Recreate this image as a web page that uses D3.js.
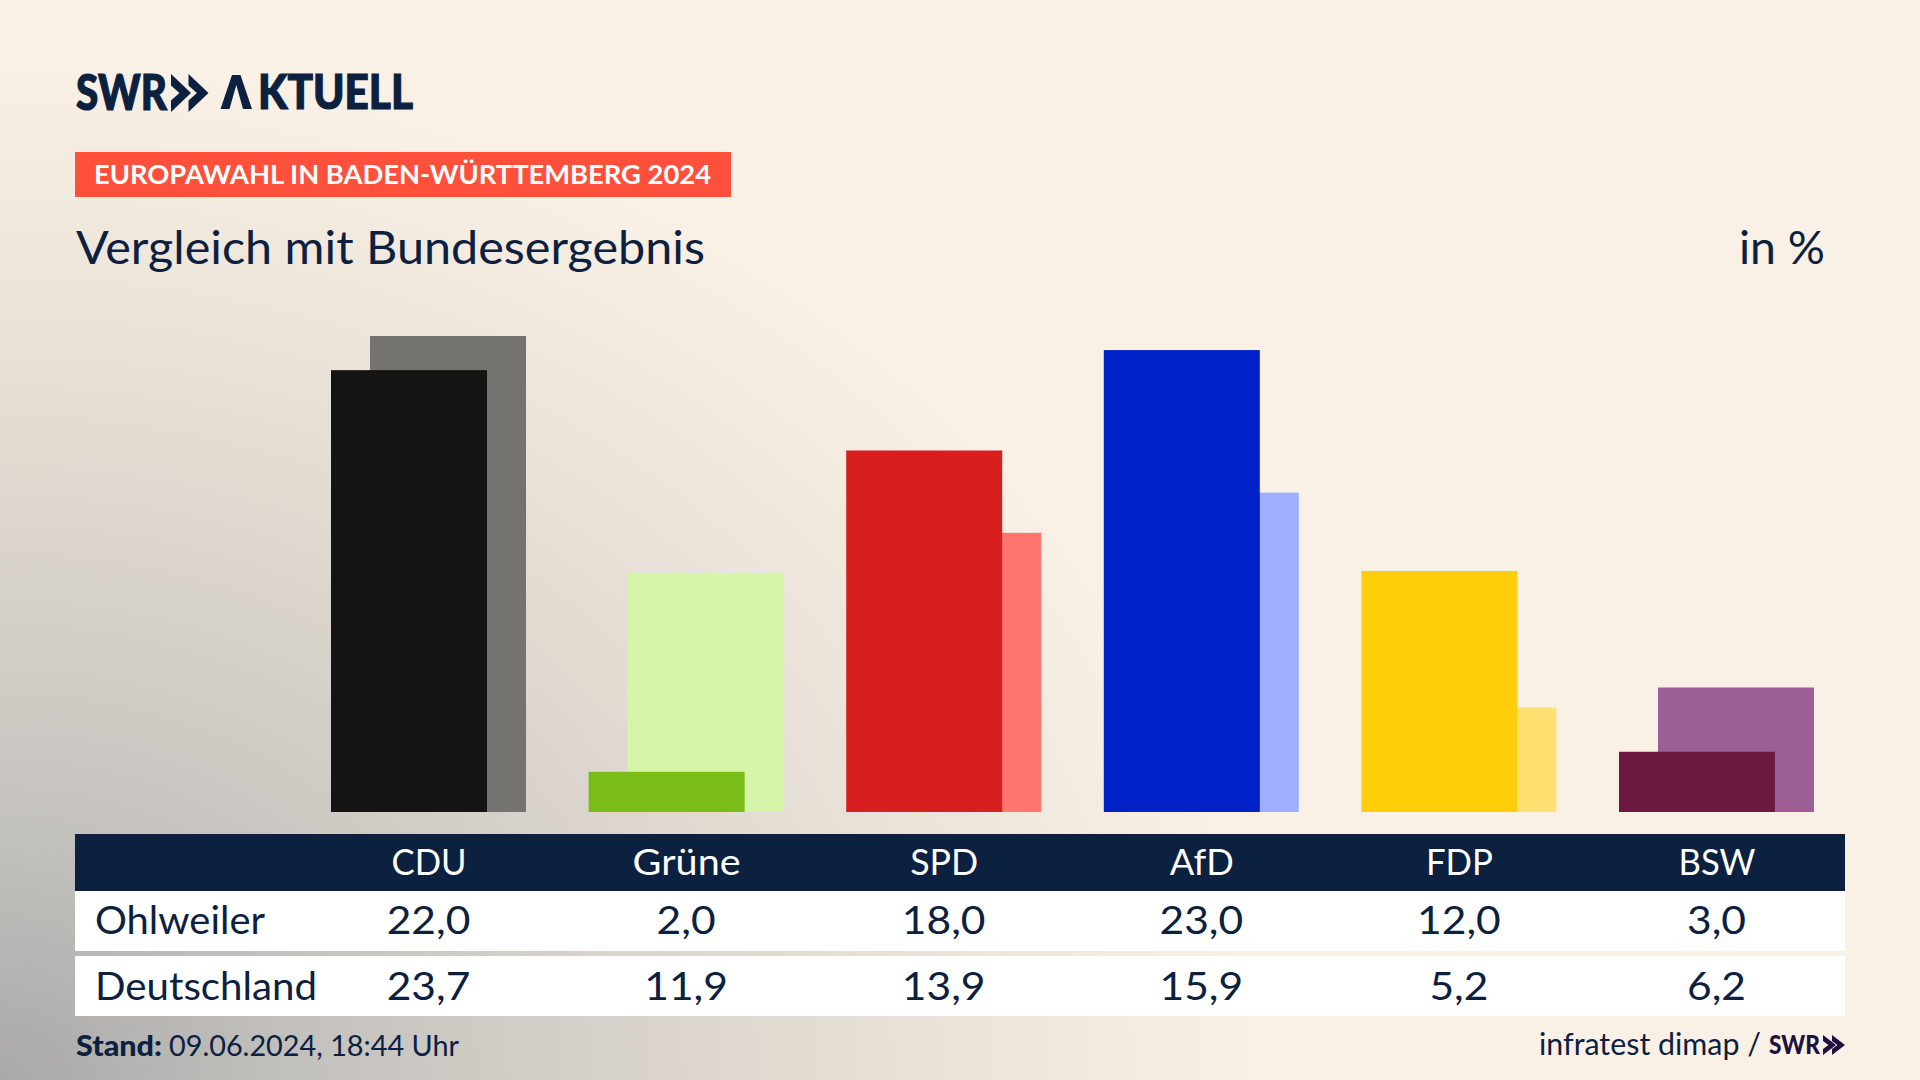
<!DOCTYPE html>
<html lang="de">
<head>
<meta charset="utf-8">
<style>
  html, body { margin: 0; padding: 0; overflow: hidden; background: #faf1e6; }
  text { font-family: Lato, "Noto Sans", sans-serif; fill: #0c2040; }
  .logo { stroke: #0c2040; stroke-width: 1.2px; }
</style>
</head>
<body>
<div id="chart"></div>
<script src="https://cdn.jsdelivr.net/npm/d3@7"></script>
<script>
// data
var parties = ["CDU", "Grüne", "SPD", "AfD", "FDP", "BSW"];
var ohlweiler = [22.0, 2.0, 18.0, 23.0, 12.0, 3.0];
var deutschland = [23.7, 11.9, 13.9, 15.9, 5.2, 6.2];
var colorsLocal = ["#141414", "#7abd18", "#d81f1f", "#0020c8", "#ffcd0a", "#6b193f"];
var colorsFederal = ["#75736f", "#d7f5a8", "#ff7570", "#a0aeff", "#ffe070", "#9b5f96"];
var rowNames = ["Ohlweiler", "Deutschland"];
var rowNameWidths = [170, 222];
var partyLabelWidths = [75, 108, 68, 64, 67, 77];

var width = 1920, height = 1080;
var navy = "#0c2040";
var fmt = function (v) { return v.toFixed(1).replace(".", ","); };

var svg = d3.select("#chart").append("svg")
  .attr("width", width)
  .attr("height", height)
  .style("display", "block");

// squeeze or stretch a text to the width it has in the picture
function fit(sel, w) {
  return sel.attr("textLength", w).attr("lengthAdjust", "spacingAndGlyphs");
}

// background
var defs = svg.append("defs");
var grad = defs.append("radialGradient")
  .attr("id", "bg")
  .attr("gradientUnits", "userSpaceOnUse")
  .attr("cx", 0).attr("cy", 0).attr("r", 1)
  .attr("gradientTransform", "translate(0,1080) scale(1260,1020)");
[[0, "#a9a9a8"], [0.25, "#c4c2be"], [0.55, "#dcd6ce"], [0.8, "#eee6db"], [1, "#faf1e6"]].forEach(function (s) {
  grad.append("stop").attr("offset", s[0]).attr("stop-color", s[1]);
});
svg.append("rect").attr("width", width).attr("height", height).attr("fill", "url(#bg)");

// logo
function chevrons(g, x, top, h, w, gap, color) {
  [0, 1].forEach(function (i) {
    var x0 = x + i * gap;
    g.append("path")
      .attr("d", "M" + x0 + "," + top + "L" + (x0 + w) + "," + (top + h / 2) + "L" + x0 + "," + (top + h) +
        "L" + x0 + "," + (top + h * 0.7) + "L" + (x0 + w * 0.42) + "," + (top + h / 2) + "L" + x0 + "," + (top + h * 0.3) + "Z")
      .attr("fill", color);
  });
}

var head = svg.append("g");
fit(head.append("text").attr("class", "logo").attr("x", 76).attr("y", 110)
  .attr("font-size", 50).attr("font-weight", 900)
  .text("SWR"), 91);
chevrons(head, 171, 74, 38, 20, 17.5, navy);
// the wordmark's A has no crossbar, so the letter stays text but the shape is drawn over it
fit(head.append("text").attr("x", 221).attr("y", 109)
  .attr("font-size", 48).attr("font-weight", 900).style("fill", "none")
  .text("A"), 31);
fit(head.append("text").attr("class", "logo").attr("x", 258).attr("y", 109)
  .attr("font-size", 48).attr("font-weight", 900)
  .text("KTUELL"), 155);
head.append("path")
  .attr("d", "M220.5,109L232,75L240.5,75L252,109L243,109L236.3,85L229.5,109Z")
  .attr("fill", navy);

// red label
head.append("rect").attr("x", 75).attr("y", 152).attr("width", 656).attr("height", 45).attr("fill", "#ff503c");
fit(head.append("text").attr("x", 94).attr("y", 184)
  .attr("font-size", 27).attr("font-weight", 700).style("fill", "#fff")
  .text("EUROPAWAHL IN BADEN-WÜRTTEMBERG 2024"), 617);

fit(head.append("text").attr("x", 76).attr("y", 264)
  .attr("font-size", 46)
  .text("Vergleich mit Bundesergebnis"), 629);
fit(head.append("text").attr("x", 1739).attr("y", 264)
  .attr("font-size", 46)
  .text("in %"), 86);

// scales
var x = d3.scalePoint().domain(parties).range([428.5, 1716.5]);
var y = d3.scaleLinear().domain([0, 23.7]).range([812, 336]);
var barW = 156, shift = 39;

// bars
var bars = svg.append("g");
bars.selectAll("rect.federal").data(parties).enter().append("rect")
  .attr("class", "federal")
  .attr("x", function (d) { return x(d) - barW / 2 + shift / 2; })
  .attr("y", function (d, i) { return y(deutschland[i]); })
  .attr("width", barW)
  .attr("height", function (d, i) { return y(0) - y(deutschland[i]); })
  .attr("fill", function (d, i) { return colorsFederal[i]; });
bars.selectAll("rect.local").data(parties).enter().append("rect")
  .attr("class", "local")
  .attr("x", function (d) { return x(d) - barW / 2 - shift / 2; })
  .attr("y", function (d, i) { return y(ohlweiler[i]); })
  .attr("width", barW)
  .attr("height", function (d, i) { return y(0) - y(ohlweiler[i]); })
  .attr("fill", function (d, i) { return colorsLocal[i]; });

// table
var table = svg.append("g");
table.append("rect").attr("x", 75).attr("y", 834).attr("width", 1770).attr("height", 57).attr("fill", navy);
table.append("rect").attr("x", 75).attr("y", 891).attr("width", 1770).attr("height", 60).attr("fill", "#fff");
table.append("rect").attr("x", 75).attr("y", 956).attr("width", 1770).attr("height", 60).attr("fill", "#fff");

var axis = table.append("g")
  .attr("transform", "translate(0,834)")
  .call(d3.axisBottom(x).tickSize(0).tickPadding(0));
axis.select(".domain").remove();
axis.selectAll("text")
  .attr("y", 41).attr("dy", 0)
  .attr("font-size", 37)
  .attr("textLength", function (d, i) { return partyLabelWidths[i]; })
  .attr("lengthAdjust", "spacingAndGlyphs")
  .style("font-family", "Lato, 'Noto Sans', sans-serif")
  .style("fill", "#fff");

[ohlweiler, deutschland].forEach(function (vals, r) {
  var base = r === 0 ? 934 : 1000;
  fit(table.append("text").attr("x", 95).attr("y", base)
    .attr("font-size", 38)
    .text(rowNames[r]), rowNameWidths[r]);
  table.selectAll("text.v" + r).data(vals).enter().append("text")
    .attr("class", "v" + r)
    .attr("x", function (d, i) { return x(parties[i]); })
    .attr("y", base)
    .attr("font-size", 39)
    .attr("text-anchor", "middle")
    .text(fmt)
    .each(function () {
      // the original digits run a little wider than Lato
      d3.select(this).attr("textLength", this.getComputedTextLength() * 1.09)
        .attr("lengthAdjust", "spacingAndGlyphs");
    });
});

// footer
var foot = svg.append("g");
fit(foot.append("text").attr("x", 76).attr("y", 1056)
  .attr("font-size", 29).attr("font-weight", 900)
  .text("Stand:"), 86);
fit(foot.append("text").attr("x", 169).attr("y", 1056)
  .attr("font-size", 29)
  .text("09.06.2024, 18:44 Uhr"), 290);
fit(foot.append("text").attr("x", 1539).attr("y", 1055)
  .attr("font-size", 30)
  .text("infratest dimap /"), 222);
fit(foot.append("text").attr("x", 1769).attr("y", 1054)
  .attr("font-size", 26).attr("font-weight", 900).style("fill", "#1f1140")
  .text("SWR"), 51);
chevrons(foot, 1823, 1035, 20, 13, 9, "#1f1140");
</script>
</body>
</html>
